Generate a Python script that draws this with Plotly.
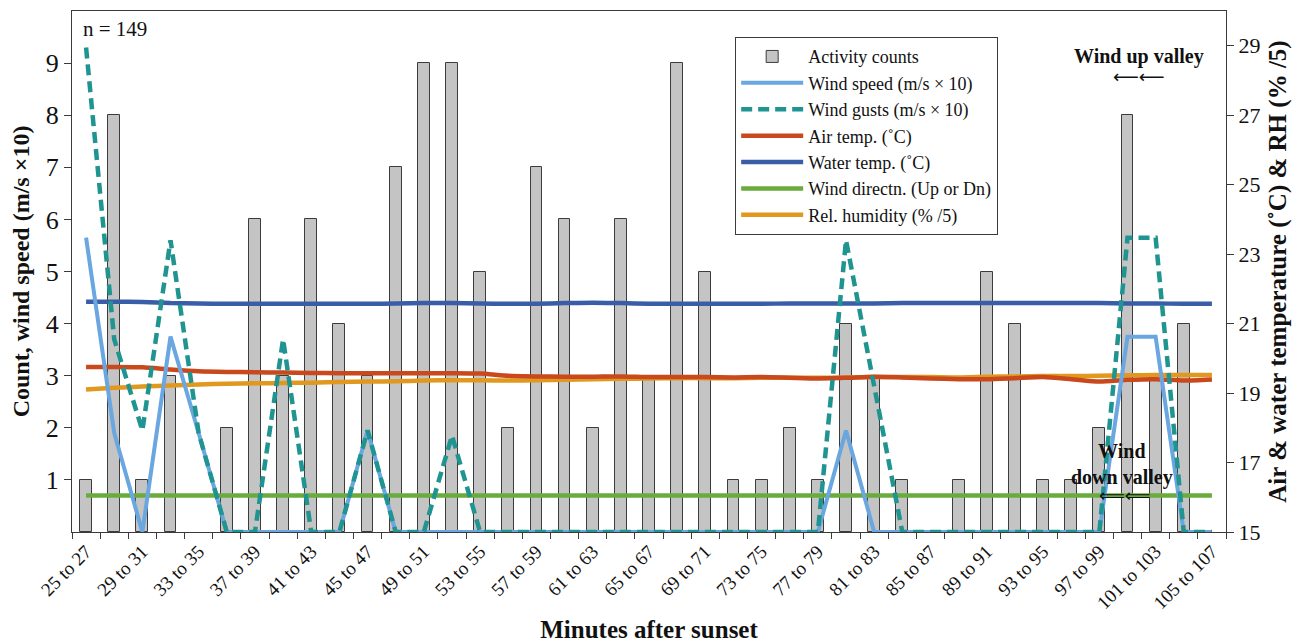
import plotly.graph_objects as go

# ---------------- data ----------------
categories = [
    "25 to 27", "27 to 29", "29 to 31", "31 to 33", "33 to 35", "35 to 37", "37 to 39",
    "39 to 41", "41 to 43", "43 to 45", "45 to 47", "47 to 49", "49 to 51", "51 to 53",
    "53 to 55", "55 to 57", "57 to 59", "59 to 61", "61 to 63", "63 to 65", "65 to 67",
    "67 to 69", "69 to 71", "71 to 73", "73 to 75", "75 to 77", "77 to 79", "79 to 81",
    "81 to 83", "83 to 85", "85 to 87", "87 to 89", "89 to 91", "91 to 93", "93 to 95",
    "95 to 97", "97 to 99", "99 to 101", "101 to 103", "103 to 105", "105 to 107",
]

activity_counts = [1, 8, 1, 3, 0, 2, 6, 3, 6, 4, 3, 7, 9, 9, 5, 2, 7, 6, 2, 6, 3,
                   9, 5, 1, 1, 2, 1, 4, 3, 1, 0, 1, 5, 4, 1, 1, 2, 8, 3, 4, 0]

wind_speed = [5.65, 1.9, 0, 3.75, 1.9, 0, 0, 0, 0, 0, 1.95, 0, 0, 0, 0, 0, 0, 0, 0, 0, 0,
              0, 0, 0, 0, 0, 0, 1.95, 0, 0, 0, 0, 0, 0, 0, 0, 0, 3.75, 3.75, 0, 0]

wind_gusts = [9.3, 3.7, 1.95, 5.6, 1.9, 0, 0, 3.7, 0, 0, 1.95, 0, 0, 1.85, 0, 0, 0, 0, 0, 0, 0,
              0, 0, 0, 0, 0, 0, 5.6, 2.8, 0, 0, 0, 0, 0, 0, 0, 0, 5.65, 5.65, 0, 0]

air_temp = [19.75, 19.75, 19.74, 19.68, 19.63, 19.61, 19.60, 19.59, 19.58, 19.57, 19.57,
            19.57, 19.57, 19.57, 19.56, 19.50, 19.48, 19.47, 19.47, 19.48, 19.46, 19.46,
            19.46, 19.45, 19.46, 19.44, 19.42, 19.44, 19.47, 19.45, 19.42, 19.40, 19.40,
            19.43, 19.46, 19.40, 19.33, 19.38, 19.40, 19.36, 19.39]

water_temp = [21.63, 21.63, 21.62, 21.59, 21.58, 21.57, 21.57, 21.57, 21.57, 21.57, 21.57,
              21.58, 21.59, 21.59, 21.58, 21.57, 21.57, 21.59, 21.60, 21.59, 21.57, 21.57,
              21.57, 21.57, 21.57, 21.58, 21.58, 21.58, 21.58, 21.59, 21.59, 21.59, 21.59,
              21.59, 21.59, 21.59, 21.59, 21.58, 21.58, 21.57, 21.57]

wind_direction = [0.7, 0.7, 0.7, 0.7, 0.7, 0.7, 0.7, 0.7, 0.7, 0.7, 0.7, 0.7, 0.7, 0.7,
                  0.7, 0.7, 0.7, 0.7, 0.7, 0.7, 0.7, 0.7, 0.7, 0.7, 0.7, 0.7, 0.7, 0.7,
                  0.7, 0.7, 0.7, 0.7, 0.7, 0.7, 0.7, 0.7, 0.7, 0.7, 0.7, 0.7, 0.7]

rel_humidity = [19.10, 19.15, 19.19, 19.22, 19.25, 19.27, 19.28, 19.29, 19.30, 19.32, 19.33,
                19.34, 19.36, 19.37, 19.37, 19.36, 19.37, 19.38, 19.40, 19.41, 19.42, 19.43,
                19.43, 19.43, 19.44, 19.44, 19.44, 19.45, 19.46, 19.46, 19.46, 19.45, 19.47,
                19.48, 19.49, 19.49, 19.50, 19.51, 19.52, 19.52, 19.52]

left_ticks = [1, 2, 3, 4, 5, 6, 7, 8, 9]
right_ticks = [15, 17, 19, 21, 23, 25, 27, 29]

# ---------------- figure ----------------
FONT = "Liberation Serif"
ARROWFONT = "DejaVu Sans"
xi = list(range(len(categories)))
label_idx = xi[::2]
label_txt = categories[::2]

# no outline drawn for empty bars
bar_outline = [1 if v > 0 else 0 for v in activity_counts]

bar_tr = go.Bar(
    x=xi, y=activity_counts, name="Activity counts", width=0.42,
    marker=dict(color="#c4c4c4", line=dict(color="#3c3c3c", width=bar_outline)),
    yaxis="y", legendrank=1,
)
speed_tr = go.Scatter(
    x=xi, y=wind_speed, name="Wind speed (m/s \u00d7 10)", mode="lines",
    line=dict(color="#6aa6df", width=4), yaxis="y3", legendrank=2,
)
gust_tr = go.Scatter(
    x=xi, y=wind_gusts, name="Wind gusts (m/s \u00d7 10)", mode="lines",
    line=dict(color="#1f9490", width=4.5, dash="11px,6px"), yaxis="y3", legendrank=3,
)
air_tr = go.Scatter(
    x=xi, y=air_temp, name="Air temp. (\u02daC)", mode="lines",
    line=dict(color="#c9481c", width=4.5, shape="spline", smoothing=0.6), yaxis="y2",
    legendrank=4,
)
water_tr = go.Scatter(
    x=xi, y=water_temp, name="Water temp. (\u02daC)", mode="lines",
    line=dict(color="#3a5da8", width=4.5, shape="spline", smoothing=0.6), yaxis="y2",
    legendrank=5,
)
dir_tr = go.Scatter(
    x=xi, y=wind_direction, name="Wind directn. (Up or Dn)", mode="lines",
    line=dict(color="#6aab3d", width=4.5), yaxis="y3", legendrank=6,
)
rh_tr = go.Scatter(
    x=xi, y=rel_humidity, name="Rel. humidity (% /5)", mode="lines",
    line=dict(color="#e0981f", width=4.5, shape="spline", smoothing=0.6), yaxis="y2",
    legendrank=7,
)

# drawing order: bars, humidity, air, water, green, wind speed, gusts
fig = go.Figure(data=[bar_tr, rh_tr, air_tr, water_tr, dir_tr, speed_tr, gust_tr])

axis_col = "#3a3a3a"

# the page adds an 8 px body margin, so the figure is 8 px smaller than the window
fig.update_layout(
    width=1292, height=635,
    margin=dict(l=64, r=74, t=3, b=111),
    paper_bgcolor="white", plot_bgcolor="white",
    font=dict(family=FONT, color="#111111", size=18),
    showlegend=True,
    bargap=0,
    xaxis=dict(
        range=[-0.5, len(categories) - 0.5],
        tickmode="array", tickvals=label_idx, ticktext=label_txt,
        tickangle=-45, ticks="", tickfont=dict(size=19, family=FONT),
        showline=True, linecolor=axis_col, linewidth=1.2, mirror=True,
        showgrid=False, zeroline=False, automargin=False,
        minor=dict(tickmode="linear", tick0=-0.5, dtick=1, ticks="outside",
                   ticklen=6, tickcolor=axis_col, tickwidth=1.2, showgrid=False),
        title=dict(text="<b>Minutes after sunset</b>", font=dict(size=25, family=FONT), standoff=14),
    ),
    yaxis=dict(
        range=[0, 10], tickmode="array", tickvals=left_ticks,
        ticks="outside", ticklen=7, tickcolor=axis_col, tickwidth=1.2,
        tickfont=dict(size=26, family=FONT),
        showline=True, linecolor=axis_col, linewidth=1.2,
        showgrid=False, zeroline=False, automargin=False,
        title=dict(text="<b>Count, wind speed (m/s \u00d710)</b>", font=dict(size=24, family=FONT), standoff=14),
    ),
    yaxis2=dict(
        range=[15, 30], tickmode="array", tickvals=right_ticks,
        overlaying="y", side="right", anchor="x",
        ticks="outside", ticklen=7, tickcolor=axis_col, tickwidth=1.2,
        tickfont=dict(size=22, family=FONT),
        showline=True, linecolor=axis_col, linewidth=1.2,
        showgrid=False, zeroline=False, automargin=False,
        title=dict(text="<b>Air &amp; water temperature (\u02daC) &amp; RH (% /5)</b>",
                   font=dict(size=25, family=FONT), standoff=8),
    ),
    yaxis3=dict(
        range=[0, 10], overlaying="y", visible=False,
    ),
    legend=dict(
        x=0.5745, y=0.95, xanchor="left", yanchor="top",
        bordercolor="#3a3a3a", borderwidth=1.2, bgcolor="white",
        font=dict(size=18, family=FONT, color="#111111"),
        itemwidth=62, tracegroupgap=0,
    ),
)

fig.add_annotation(xref="paper", yref="paper", x=0.008, y=0.965, xanchor="left", yanchor="middle",
                   text="n = 149", showarrow=False, font=dict(size=21, family=FONT))
fig.add_annotation(xref="x", yref="y", x=37.4, y=9.12, xanchor="center", yanchor="middle",
                   text="<b>Wind up valley</b>", showarrow=False, font=dict(size=20, family=FONT))
fig.add_annotation(xref="x", yref="y", x=37.4, y=8.75, xanchor="center", yanchor="middle",
                   text="\u27f5\u27f5", showarrow=False, font=dict(size=18, family=ARROWFONT))
fig.add_annotation(xref="x", yref="y", x=36.8, y=1.3, xanchor="center", yanchor="middle",
                   text="<b>Wind<br>down valley</b>", showarrow=False,
                   font=dict(size=20, family=FONT))
fig.add_annotation(xref="x", yref="y", x=36.9, y=0.7, xanchor="center", yanchor="middle",
                   text="\u27f8\u27f8", showarrow=False, font=dict(size=18, family=ARROWFONT))

fig.write_html("out.html")
